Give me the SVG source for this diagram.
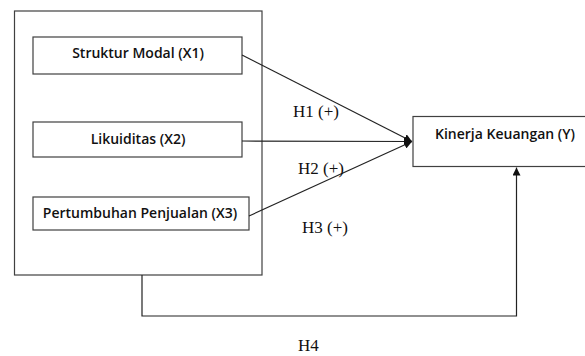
<svg xmlns="http://www.w3.org/2000/svg" width="585" height="356" viewBox="0 0 585 356">
<style>
.box{fill:#fff;stroke:#404040;stroke-width:1.2}
.lbl{font-family:"Open Sans","Liberation Sans",sans-serif;font-weight:600;font-size:14px;fill:#111;text-anchor:middle}
.h{font-family:"Liberation Serif","Times New Roman",serif;font-size:17px;fill:#111}
.con{fill:none;stroke:#222;stroke-width:1.2}
</style>
<defs>
<marker id="arr" viewBox="0 0 10 10" refX="10" refY="5" markerWidth="8" markerHeight="8" markerUnits="userSpaceOnUse" orient="auto">
<path d="M0,0 L10,5 L0,10 z" fill="#111"/>
</marker>
</defs>
<g id="outer"><rect class="box" x="14.5" y="11" width="247.5" height="264"/></g>
<g id="x1"><rect class="box" x="33" y="37" width="209" height="37"/><text class="lbl" x="138" y="58">Struktur Modal (X1)</text></g>
<g id="x2"><rect class="box" x="33" y="122" width="209" height="35"/><text class="lbl" x="138" y="144">Likuiditas (X2)</text></g>
<g id="x3"><rect class="box" x="33" y="197" width="216" height="33"/><text class="lbl" x="140" y="218">Pertumbuhan Penjualan (X3)</text></g>
<g id="y"><rect class="box" x="413" y="116.5" width="180" height="50"/><text class="lbl" x="505" y="139">Kinerja Keuangan (Y)</text></g>
<g id="connectors">
<line class="con" x1="242" y1="55" x2="412" y2="141.5" marker-end="url(#arr)"/>
<line class="con" x1="242" y1="141" x2="412" y2="141.5" marker-end="url(#arr)"/>
<line class="con" x1="249" y1="216" x2="412" y2="141.5" marker-end="url(#arr)"/>
<polyline class="con" points="142,275 142,316 516.5,316 516.5,167.5" marker-end="url(#arr)"/>
</g>
<g id="labels">
<text class="h" x="293" y="117">H1 (+)</text>
<text class="h" x="298" y="174">H2 (+)</text>
<text class="h" x="302" y="233">H3 (+)</text>
<text class="h" x="298" y="351">H4</text>
</g>
</svg>
